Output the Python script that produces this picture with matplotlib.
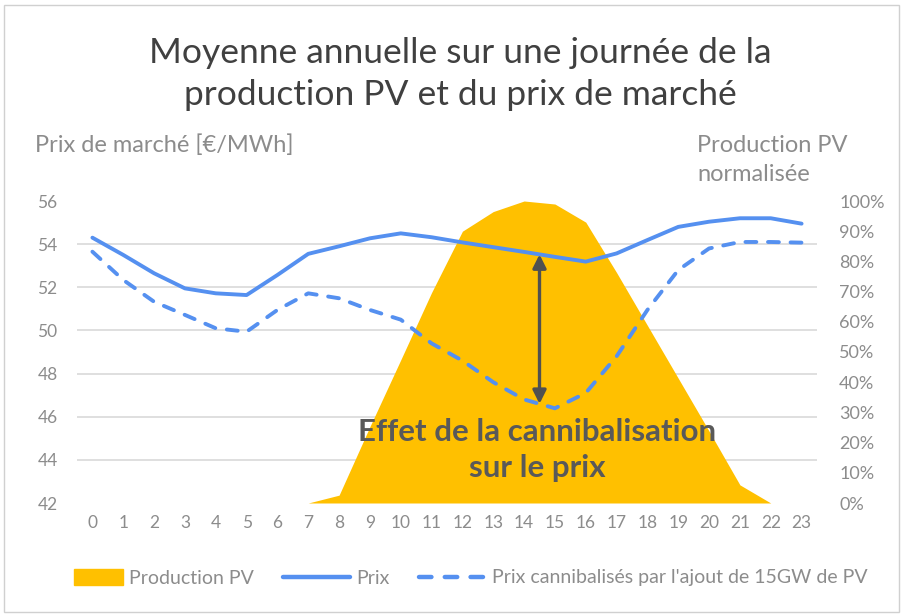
import numpy as np
import matplotlib
matplotlib.use("Agg")
import matplotlib.pyplot as plt
import matplotlib.patches as mpatches
from matplotlib.lines import Line2D
from matplotlib.ticker import FixedLocator
from matplotlib.legend_handler import HandlerPatch

plt.rcParams['font.family'] = ['Lato', 'DejaVu Sans']

# data
hours = list(range(24))
prix = [54.3, 53.5, 52.65, 51.95, 51.72, 51.64, 52.57, 53.55, 53.9, 54.27,
        54.5, 54.32, 54.08, 53.86, 53.64, 53.41, 53.19, 53.57, 54.19, 54.8,
        55.04, 55.2, 55.2, 54.95]
prix_cannib = [53.65, 52.34, 51.33, 50.72, 50.1, 49.94, 50.95, 51.72, 51.49, 50.95,
               50.5, 49.4, 48.6, 47.6, 46.8, 46.39, 47.1, 48.8, 50.95, 52.8,
               53.8, 54.1, 54.1, 54.07]
prod_pv = [0, 0, 0, 0, 0, 0, 0, 0, 0.026, 0.253, 0.474, 0.697, 0.90, 0.965,
           1.0, 0.99, 0.93, 0.763, 0.588, 0.413, 0.238, 0.06, 0, 0]

left_ticks = [42, 44, 46, 48, 50, 52, 54, 56]
right_ticks = [i / 10 for i in range(11)]
right_labels = [f"{i * 10}%" for i in range(11)]

title = "Moyenne annuelle sur une journée de la\nproduction PV et du prix de marché"
arrow_hour = 14.5

YELLOW = '#FFC000'
BLUE = '#5590F0'
GRID = '#D9D9D9'
TICK = '#8C8C8C'
DASH = (0, (2.8, 3.0))

fig = plt.figure(figsize=(9.04, 6.16), dpi=100)
W, H = 904, 616
ax1 = fig.add_axes([77 / W, 1 - 503 / H, (817 - 77) / W, (503 - 201) / H])
ax2 = ax1.twinx()

# area on the right axis, drawn behind the price lines
ax1.set_zorder(2)
ax2.set_zorder(1)
ax1.patch.set_visible(False)

ax2.fill_between(hours, prod_pv, 0, color=YELLOW, linewidth=0, zorder=2)
ax2.set_ylim(0, 1)
ax2.set_yticks(right_ticks)
ax2.set_yticklabels(right_labels)
# horizontal gridlines follow the left axis ticks
ax2.yaxis.set_minor_locator(FixedLocator([(v - 42) / 14 for v in left_ticks]))
ax2.grid(which='minor', axis='y', color=GRID, linewidth=1.2, zorder=0)
ax2.set_axisbelow(True)
ax2.tick_params(axis='y', which='both', length=0, labelsize=13, labelcolor=TICK, pad=16)

ax1.plot(hours, prix, color=BLUE, linewidth=2.8, solid_capstyle='round', zorder=3)
ax1.plot(hours, prix_cannib, color=BLUE, linewidth=2.8, linestyle=DASH,
         dash_capstyle='round', zorder=3)
ax1.set_ylim(42, 56)
ax1.set_xlim(-0.5, 23.5)
ax1.set_yticks(left_ticks)
ax1.set_xticks(hours)
ax1.tick_params(axis='y', length=0, labelsize=12.5, labelcolor=TICK, pad=14)
ax1.tick_params(axis='x', length=0, labelsize=12.5, labelcolor=TICK, pad=9)

for a in (ax1, ax2):
    for s in a.spines.values():
        s.set_visible(False)

# double arrow between the two price curves
y_top = np.interp(arrow_hour, hours, prix)
y_bot = np.interp(arrow_hour, hours, prix_cannib)
ax1.annotate('', xy=(arrow_hour, y_top), xytext=(arrow_hour, y_bot),
             arrowprops=dict(arrowstyle='<|-|>', color='#505050', lw=2.4,
                             mutation_scale=20, shrinkA=0, shrinkB=0), zorder=4)
ax1.text(14.42, 45.3, "Effet de la cannibalisation", ha='center', va='center',
         fontsize=22.5, fontweight='bold', color='#595959', zorder=5)
ax1.text(14.42, 43.6, "sur le prix", ha='center', va='center',
         fontsize=22.5, fontweight='bold', color='#595959', zorder=5)

fig.text(460 / W, 1 - 74 / H, title, ha='center', va='center', fontsize=25.5,
         color='#404040', linespacing=1.38)
fig.text(35 / W, 1 - 145 / H, "Prix de marché [€/MWh]", ha='left', va='center',
         fontsize=17, color=TICK)
fig.text(697 / W, 1 - 160 / H, "Production PV\nnormalisée", ha='left', va='center',
         fontsize=17, color=TICK, linespacing=1.45)


def narrow_patch(legend, orig_handle, xdescent, ydescent, width, height, fontsize):
    w = width * 0.73
    return mpatches.Rectangle((-xdescent + width - w, -ydescent - 1), w, height + 2)


handles = [
    mpatches.Patch(color=YELLOW, label='Production PV'),
    Line2D([], [], color=BLUE, linewidth=3.2, solid_capstyle='round', label='Prix'),
    Line2D([], [], color=BLUE, linewidth=3.2, linestyle=DASH,
           dash_capstyle='round', label="Prix cannibalisés par l'ajout de 15GW de PV"),
]
leg = fig.legend(handles=handles, loc='center', bbox_to_anchor=(462 / W, 1 - 578 / H),
                 ncol=3, frameon=False, fontsize=14, handlelength=3.4,
                 handletextpad=0.35, columnspacing=1.5,
                 handler_map={mpatches.Patch: HandlerPatch(patch_func=narrow_patch)})
for t in leg.get_texts():
    t.set_color(TICK)

fig.patches.append(mpatches.Rectangle((4 / W, 4 / H), 1 - 9 / W, 1 - 9 / H,
                                      transform=fig.transFigure, fill=False,
                                      edgecolor='#D0D0D0', linewidth=1))

fig.savefig('out.png', dpi=100)
